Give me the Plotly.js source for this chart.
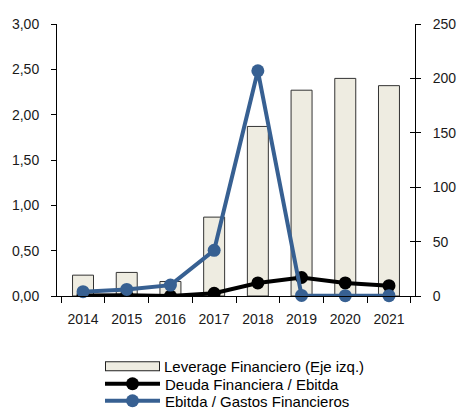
<!DOCTYPE html>
<html><head><meta charset="utf-8">
<script src="https://cdn.plot.ly/plotly-3.0.1.min.js"></script>
<style>body{margin:0;background:#fff}#c{width:458px;height:411px}</style>
</head><body><div id="c"></div>
<script>
const years = ['2014','2015','2016','2017','2018','2019','2020','2021'];
const leverage = [0.23, 0.26, 0.16, 0.87, 1.87, 2.27, 2.40, 2.32];
const deudaEbitda = [0.5, 0.8, 0.0, 2.5, 12, 17, 12, 9.5];
const ebitdaGastos = [4, 6, 10, 42, 207, 0.5, 0.3, 0.3];
const names = ['Leverage Financiero (Eje izq.)','Deuda Financiera / Ebitda','Ebitda / Gastos Financieros'];
const beige = '#EEECE1';
const blue = 'rgb(55,96,146)';
const traces = [
  {type:'bar', x:years, y:leverage, name:names[0], yaxis:'y', width:0.48, showlegend:false,
   marker:{color:beige, line:{color:'#333', width:1}}},
  {type:'scatter', mode:'lines+markers', x:years, y:deudaEbitda, name:names[1], yaxis:'y2', legend:'legend3',
   line:{color:'#000', width:4}, marker:{color:'#000', size:13}},
  {type:'scatter', mode:'lines+markers', x:years, y:ebitdaGastos, name:names[2], yaxis:'y2', legend:'legend4',
   line:{color:blue, width:4}, marker:{color:blue, size:13}, cliponaxis:false},
  // legend swatch for the bar series: outline + fill
  {type:'scatter', mode:'lines', x:[years[0]], y:[null], name:' ', yaxis:'y', legend:'legend',
   line:{color:'#222', width:10}, hoverinfo:'skip'},
  {type:'scatter', mode:'lines', x:[years[0]], y:[null], name:names[0], yaxis:'y', legend:'legend2',
   line:{color:beige, width:8}, hoverinfo:'skip'},
  {type:'scatter', x:[years[0]], y:[null], yaxis:'y3', showlegend:false, hoverinfo:'skip'}
];
const fnt = {family:'Liberation Sans, Arial, sans-serif', size:14, color:'#1a1a1a'};
const lfnt = {family:'Liberation Sans, Arial, sans-serif', size:15, color:'#000'};
function leg(x, y, w){
  return {orientation:'v', xref:'container', yref:'container', x:x/458, xanchor:'left',
    y:1 - y/411, yanchor:'middle', itemwidth:w, font:lfnt, bgcolor:'rgba(0,0,0,0)', borderwidth:0};
}
const layout = {
  width:458, height:411, margin:{l:57, r:43, t:24, b:115, autoexpand:false},
  paper_bgcolor:'#fff', plot_bgcolor:'#fff', separators:',.',
  font:fnt, showlegend:true, bargap:0.52,
  xaxis:{type:'category', showline:true, linecolor:'#000', linewidth:1, ticks:'outside', ticklen:6,
    tickcolor:'#000', tickson:'boundaries', showgrid:false, zeroline:false, tickfont:fnt, ticklabelstandoff:10},
  yaxis:{range:[0,3], dtick:0.5, tickformat:'.2f', showline:true, linecolor:'#000', linewidth:1,
    ticks:'outside', ticklen:5, tickcolor:'#000', showgrid:false, zeroline:false, tickfont:fnt, ticklabelstandoff:9},
  yaxis2:{range:[0,250], dtick:50, overlaying:'y', side:'right', showline:true, linecolor:'#000', linewidth:1,
    ticks:'outside', ticklen:5, tickcolor:'#000', showgrid:false, zeroline:false, tickfont:fnt, ticklabelstandoff:9},
  yaxis3:{range:[0,250], dtick:50, overlaying:'y', side:'right', showline:false,
    ticks:'inside', ticklen:5, tickcolor:'#000', showgrid:false, zeroline:false, showticklabels:false},
  legend: leg(100, 366.5, 55),
  legend2: leg(101, 366.5, 53),
  legend3: leg(100, 384, 55),
  legend4: leg(100, 401, 55)
};
Plotly.newPlot('c', traces, layout, {displayModeBar:false, staticPlot:true});
</script></body></html>
